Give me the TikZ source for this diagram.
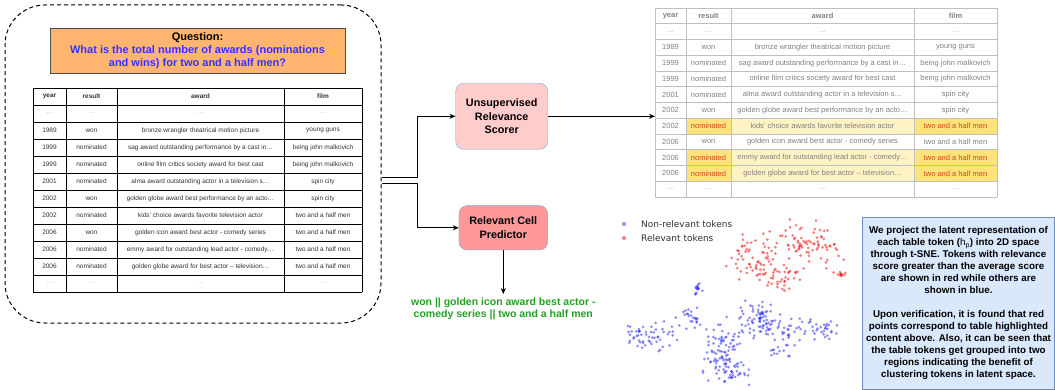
\documentclass[tikz,border=0pt]{standalone}
\usepackage{fontspec}
\setmainfont{Liberation Sans}
\newfontfamily\plotfont{DejaVu Sans}
\usetikzlibrary{arrows.meta}

\definecolor{qorange}{HTML}{FFB570}
\definecolor{qblue}{HTML}{3333FF}
\definecolor{scorerpink}{HTML}{FFCCCC}
\definecolor{predpink}{HTML}{FF9999}
\definecolor{boxedge}{HTML}{7EA6E0}
\definecolor{ansgreen}{HTML}{22A022}
\definecolor{notefill}{HTML}{DAE8FC}
\definecolor{noteedge}{HTML}{6C8EBF}
\definecolor{hlstrong}{HTML}{FFE27A}
\definecolor{hllight}{HTML}{FFF3C4}
\definecolor{hltext}{HTML}{D2451E}
\definecolor{dotblue}{HTML}{2222EE}
\definecolor{dotred}{HTML}{EE1515}

\newcommand{\tdots}{{\color{gray!60}\dots}}
\def\awardrows{\textbf{year}/\textbf{result}/\textbf{award}/\textbf{film},
  \tdots/\tdots/\tdots/\tdots,
  1989/won/bronze wrangler theatrical motion picture/young guns,
  1999/nominated/sag award outstanding performance by a cast in\dots/being john malkovich,
  1999/nominated/online film critics society award for best cast/being john malkovich,
  2001/nominated/alma award outstanding actor in a television s\dots/spin city,
  2002/won/golden globe award best performance by an acto\dots/spin city,
  2002/nominated/kids' choice awards favorite television actor/two and a half men,
  2006/won/golden icon award best actor - comedy series/two and a half men,
  2006/nominated/emmy award for outstanding lead actor - comedy\dots/two and a half men,
  2006/nominated/golden globe award for best actor -- television\dots/two and a half men,
  \tdots/\tdots/\tdots/\tdots}

\begin{document}
\begin{tikzpicture}[x=1pt,y=-1pt,
    flow/.style={-{Stealth[length=6pt,width=5pt]},line width=0.8pt},
    ctxbox/.style={draw,line width=1pt,dash pattern=on 4pt off 3pt,rounded corners=40pt,
      minimum width=376pt,minimum height=318pt},
    qbox/.style={draw=black!70,fill=qorange,minimum width=295pt,minimum height=45pt,
      align=center,font=\fontsize{11}{13}\selectfont\bfseries},
    stage/.style={draw=boxedge,rounded corners=8pt,align=center,
      font=\fontsize{10.8}{13.5}\selectfont\bfseries},
    lcell/.style={inner sep=0pt,text=black!80,font=\fontsize{6.5}{7}\selectfont},
    rcell/.style={inner sep=0pt,text=black!50,font=\fontsize{7.5}{8}\selectfont},
    hl 7/.style={text=hltext},hl 9/.style={text=hltext},hl 10/.style={text=hltext},
    bluedot/.style={fill=dotblue,fill opacity=0.5},
    reddot/.style={fill=dotred,fill opacity=0.55},
    legend/.style={anchor=west,inner sep=0pt,text=black!80,font=\plotfont\fontsize{9}{10}\selectfont},
    notebox/.style={draw=noteedge,fill=notefill,minimum width=192pt,minimum height=172pt,
      align=center,font=\fontsize{9.8}{12}\selectfont\bfseries}]
\useasboundingbox (0,0) rectangle (1055,390);

\node[ctxbox] (context) at (193,164) {};
\node[qbox] (question) at (197.5,50.5) {Question:\\
  \textcolor{qblue}{What is the total number of awards (nominations}\\
  \textcolor{qblue}{and wins) for two and a half men?}};

% input table
\foreach \i in {0,...,12}
  \draw[line width=0.9pt] (33,{88+17*\i}) -- (362,{88+17*\i});
\foreach \cx in {33,66,117,284,362}
  \draw[line width=0.9pt] (\cx,88) -- (\cx,292);
\foreach \yr/\res/\awd/\flm [count=\i from 0] in \awardrows {
  \node[lcell] (l-\i-1) at (49.5,{96.5+17*\i}) {\yr};
  \node[lcell] (l-\i-2) at (91.5,{96.5+17*\i}) {\res};
  \node[lcell] (l-\i-3) at (200.5,{96.5+17*\i}) {\awd};
  \node[lcell] (l-\i-4) at (323,{96.5+17*\i}) {\flm};
}

\node[stage,fill=scorerpink,minimum width=92pt,minimum height=66pt] (scorer) at (501.7,116.3)
  {Unsupervised\\Relevance\\Scorer};
\node[stage,fill=predpink,minimum width=88.7pt,minimum height=44.3pt] (predictor) at (503.3,227.8)
  {Relevant Cell\\Predictor};
\node[anchor=north,align=center,text=ansgreen,font=\fontsize{10.5}{12}\selectfont\bfseries]
  (answer) at (503.3,294) {won || golden icon award best actor -\\comedy series || two and a half men};

\draw[flow] ([yshift=-13pt]context.east) -- ++(36,0) |- (scorer.west);
\draw[flow] ([yshift=-19pt]context.east) -- ++(36,0) |- (predictor.west);
\draw[flow] (predictor.south) -- (answer.north);

% scored table
\coordinate (rt-nw) at (655,8);
\foreach \i in {7,9,10} {
  \fill[hlstrong] (686,{8+15.75*\i}) rectangle (731,{8+15.75*(\i+1)});
  \fill[hllight] (731,{8+15.75*\i}) rectangle (914,{8+15.75*(\i+1)});
  \fill[hlstrong] (914,{8+15.75*\i}) rectangle (997,{8+15.75*(\i+1)});
}
\foreach \i in {0,...,12}
  \draw[gray!50,line width=0.8pt] (655,{8+15.75*\i}) -- (997,{8+15.75*\i});
\foreach \cx in {655,686,731,914,997}
  \draw[gray!50,line width=0.8pt] (\cx,8) -- (\cx,197);
\foreach \yr/\res/\awd/\flm [count=\i from 0] in \awardrows {
  \node[rcell] (r-\i-1) at (670.5,{15.9+15.75*\i}) {\yr};
  \node[rcell,hl \i/.try] (r-\i-2) at (708.5,{15.9+15.75*\i}) {\res};
  \node[rcell] (r-\i-3) at (822.5,{15.9+15.75*\i}) {\awd};
  \node[rcell,hl \i/.try] (r-\i-4) at (955.5,{15.9+15.75*\i}) {\flm};
}
\draw[flow] (scorer.east) -- (scorer.east -| rt-nw);

% t-SNE of the table tokens
\pgfmathsetseed{42}
\foreach \cx/\cy/\sx/\sy/\n in {652/337/16/9/55, 690/318/9/7/25, 697/288/3/5/14,
    724/350/12/18/85, 730/373/16/7/30, 755/318/15/14/70, 785/337/12/13/50, 820/328/10/7/30} {
  \foreach \k in {1,...,\n} {
    \pgfmathsetmacro{\px}{\cx+\sx*(rand+rand+rand)*0.75}
    \pgfmathsetmacro{\py}{\cy+\sy*(rand+rand+rand)*0.75}
    \fill[bluedot] (\px,\py) circle (1.5pt);
  }
}
\foreach \cx/\cy/\sx/\sy/\n in {757/258/15/16/65, 810/244/20/14/80, 782/276/17/9/35, 842/275/3/2/10} {
  \foreach \k in {1,...,\n} {
    \pgfmathsetmacro{\px}{\cx+\sx*(rand+rand+rand)*0.75}
    \pgfmathsetmacro{\py}{\cy+\sy*(rand+rand+rand)*0.75}
    \fill[reddot] (\px,\py) circle (1.5pt);
  }
}
\fill[bluedot] (624,224) circle (2pt);
\fill[reddot] (624,238) circle (2pt);
\node[legend] (leg-blue) at (641,224) {Non-relevant tokens};
\node[legend] (leg-red) at (641,238) {Relevant tokens};

\node[notebox] (note) at (958.5,303) {We project the latent representation of\\
  each table token ($\mathrm{h_p}$) into 2D space\\
  through t-SNE. Tokens with relevance\\
  score greater than the average score\\
  are shown in red while others are\\
  shown in blue.\\[12pt]
  Upon verification, it is found that red\\
  points correspond to table highlighted\\
  content above. Also, it can be seen that\\
  the table tokens get grouped into two\\
  regions indicating the benefit of\\
  clustering tokens in latent space.};
\end{tikzpicture}
\end{document}
